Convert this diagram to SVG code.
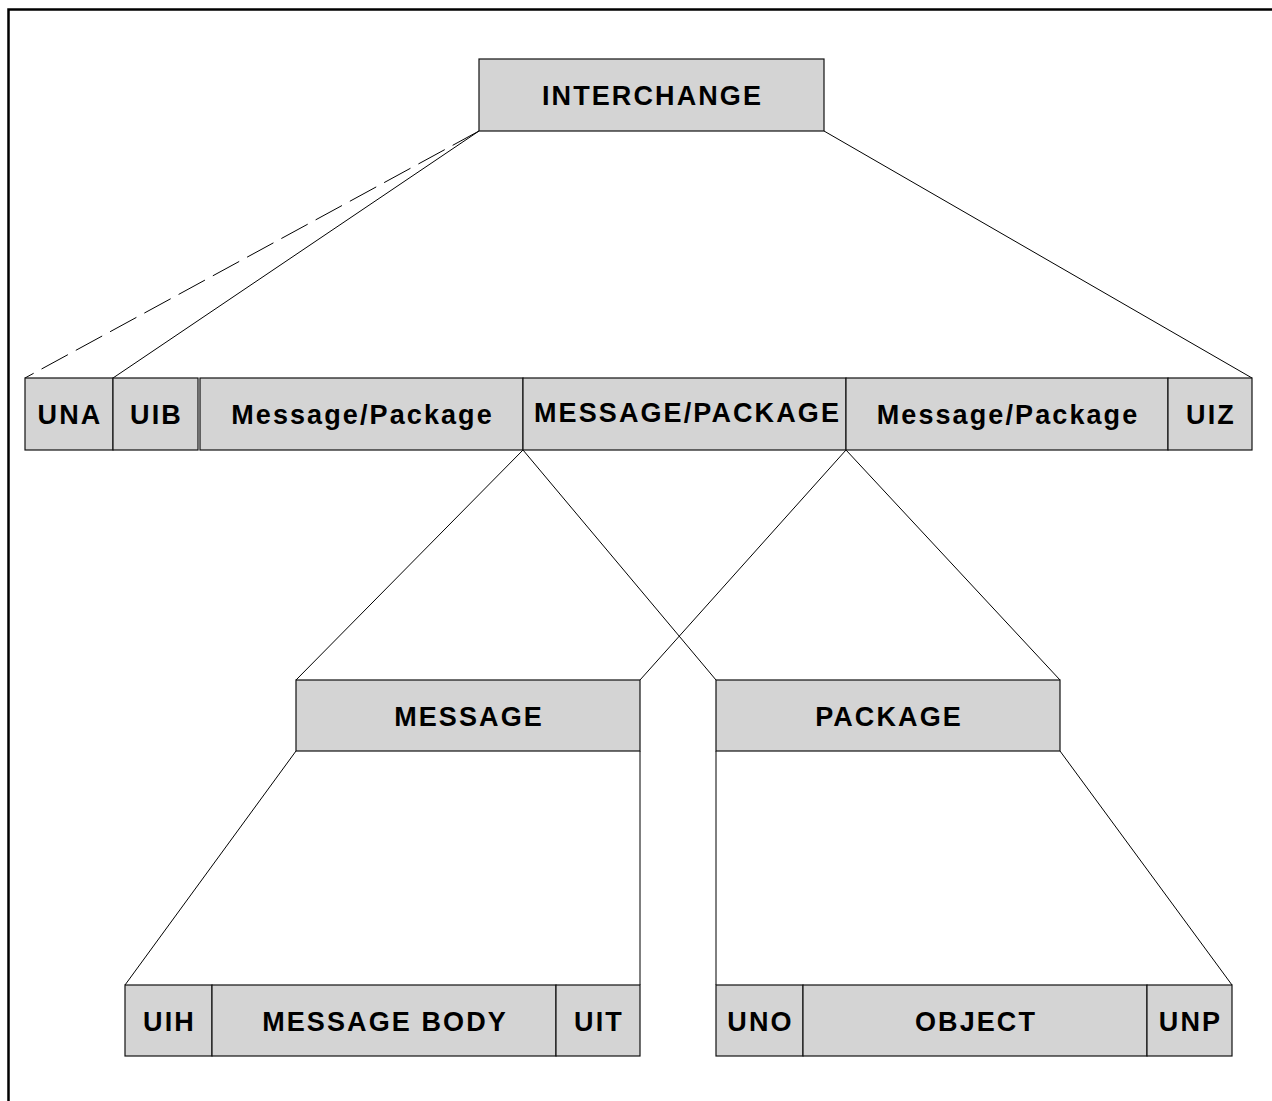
<svg xmlns="http://www.w3.org/2000/svg" width="1272" height="1101" viewBox="0 0 1272 1101">
<style>
.box{fill:#d4d4d4;stroke:#111;stroke-width:1.2}
.t{font-family:"Liberation Sans",Arial,sans-serif;font-weight:bold;font-size:27px;letter-spacing:2.1px;fill:#000;text-anchor:middle}
.c{fill:none;stroke:#000;stroke-width:1}
</style>
<rect width="1272" height="1101" fill="#fff"/>
<path d="M8.5,1101 V9.5 H1272" fill="none" stroke="#000" stroke-width="2.5"/>
<g id="connectors">
<line class="c" x1="479" y1="131" x2="25" y2="378" stroke-dasharray="30,9"/>
<line class="c" x1="479" y1="131" x2="113" y2="378"/>
<line class="c" x1="824" y1="131" x2="1252" y2="378"/>
<line class="c" x1="523" y1="450" x2="296" y2="680"/>
<line class="c" x1="523" y1="450" x2="716" y2="680"/>
<line class="c" x1="846" y1="450" x2="640" y2="680"/>
<line class="c" x1="846" y1="450" x2="1060" y2="680"/>
<line class="c" x1="296" y1="751" x2="125" y2="985"/>
<line class="c" x1="640" y1="751" x2="640" y2="985"/>
<line class="c" x1="716" y1="751" x2="716" y2="985"/>
<line class="c" x1="1060" y1="751" x2="1232" y2="985"/>
</g>
<g id="interchange"><rect class="box" x="479" y="59" width="345" height="72"/><text class="t" x="652.5" y="105">INTERCHANGE</text></g>
<g id="una"><rect class="box" x="25" y="378" width="88" height="72"/><text class="t" x="70" y="424">UNA</text></g>
<g id="uib"><rect class="box" x="113" y="378" width="85" height="72"/><text class="t" x="156.5" y="424">UIB</text></g>
<g id="msgpkg1"><rect class="box" x="200" y="378" width="323" height="72"/><text class="t" x="362.5" y="424">Message/Package</text></g>
<g id="msgpkg2"><rect class="box" x="523" y="378" width="323" height="72"/><text class="t" x="687.5" y="422">MESSAGE/PACKAGE</text></g>
<g id="msgpkg3"><rect class="box" x="846" y="378" width="322" height="72"/><text class="t" x="1008" y="424">Message/Package</text></g>
<g id="uiz"><rect class="box" x="1168" y="378" width="84" height="72"/><text class="t" x="1211" y="424">UIZ</text></g>
<g id="message"><rect class="box" x="296" y="680" width="344" height="71"/><text class="t" x="469" y="726">MESSAGE</text></g>
<g id="package"><rect class="box" x="716" y="680" width="344" height="71"/><text class="t" x="889" y="726">PACKAGE</text></g>
<g id="uih"><rect class="box" x="125" y="985" width="87" height="71"/><text class="t" x="169.5" y="1031">UIH</text></g>
<g id="msgbody"><rect class="box" x="212" y="985" width="344" height="71"/><text class="t" x="385" y="1031">MESSAGE BODY</text></g>
<g id="uit"><rect class="box" x="556" y="985" width="84" height="71"/><text class="t" x="599" y="1031">UIT</text></g>
<g id="uno"><rect class="box" x="716" y="985" width="87" height="71"/><text class="t" x="760.5" y="1031">UNO</text></g>
<g id="object"><rect class="box" x="803" y="985" width="344" height="71"/><text class="t" x="976" y="1031">OBJECT</text></g>
<g id="unp"><rect class="box" x="1147" y="985" width="85" height="71"/><text class="t" x="1190.5" y="1031">UNP</text></g>
</svg>
